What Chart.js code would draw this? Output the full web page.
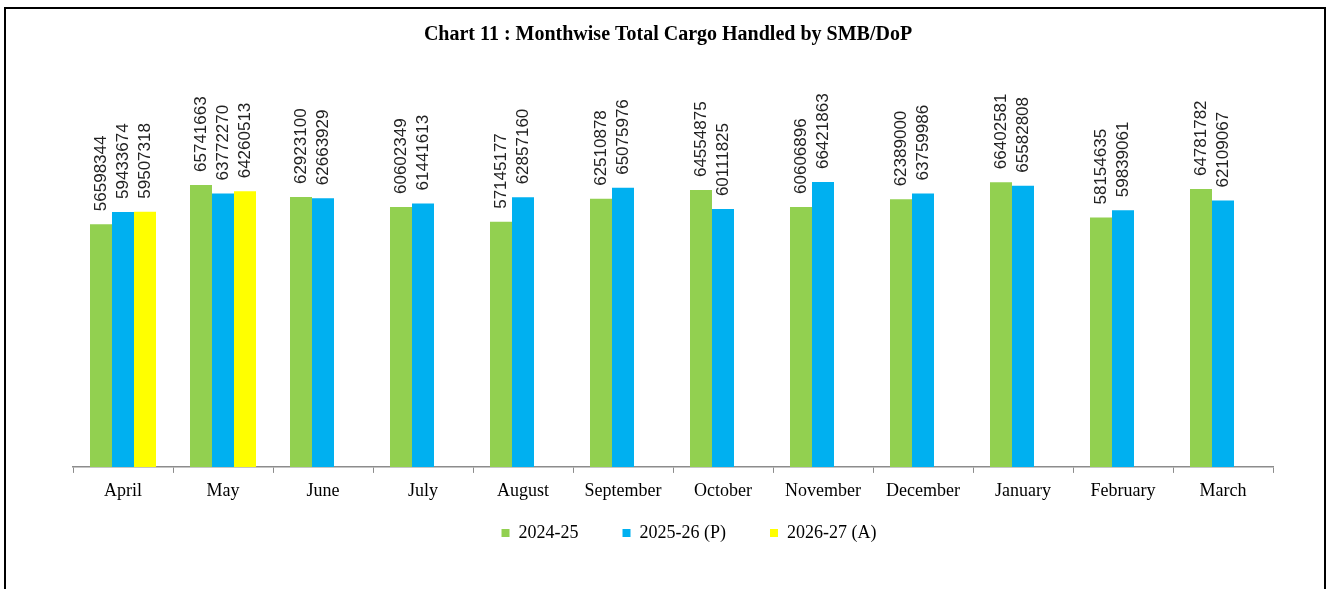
<!DOCTYPE html>
<html>
<head>
<meta charset="utf-8">
<title>Chart 11 : Monthwise Total Cargo Handled by SMB/DoP</title>
<script src="https://cdn.jsdelivr.net/npm/chart.js@4.4.1/dist/chart.umd.min.js"></script>
<style>
    html, body { margin: 0; padding: 0; background: #fff; }
    #wrap { position: relative; width: 1330px; height: 589px; }
</style>
</head>
<body>
<div id="wrap"><canvas id="cargo-chart" width="1330" height="589"></canvas></div>
<script>
// Month categories (April to March)
const MONTHS = ["April", "May", "June", "July", "August", "September",
    "October", "November", "December", "January", "February", "March"];

// Cargo handled, tonnes
const CARGO_2024_25 = [56598344, 65741663, 62923100, 60602349, 57145177, 62510878,
    64554875, 60606896, 62389000, 66402581, 58154635, 64781782];
const CARGO_2025_26 = [59433674, 63772270, 62663929, 61441613, 62857160, 65075976,
    60111825, 66421863, 63759986, 65582808, 59839061, 62109067];
const CARGO_2026_27 = [59507318, 64260513, null, null, null, null,
    null, null, null, null, null, null];

const SERIES_LABELS = ["2024-25", "2025-26 (P)", "2026-27 (A)"];
const SERIES_COLORS = ["#92D050", "#00B0F0", "#FFFF00"];

const SERIF = "'Liberation Serif', 'Times New Roman', serif";

// White page plus the thin black frame round the chart
const framePlugin = {
    id: "frame",
    beforeDraw(chart) {
        const ctx = chart.ctx;
        ctx.save();
        ctx.fillStyle = "#fff";
        ctx.fillRect(0, 0, chart.width, chart.height);
        ctx.strokeStyle = "#000";
        ctx.lineWidth = 2;
        ctx.strokeRect(5, 8, 1320, 620);
        ctx.restore();
    },
};

// Nudge title and legend to where the original puts them
const placePlugin = {
    id: "place",
    afterUpdate(chart) {
        const t = chart.titleBlock;
        if (t) { t.left -= 5; t.right -= 5; }
        const lg = chart.legend;
        if (lg) { lg.left += 16; lg.right += 16; lg.top = 480; }
    },
};

// Vertical value labels above every bar
const valueLabels = {
    id: "valueLabels",
    afterDatasetsDraw(chart) {
        const ctx = chart.ctx;
        ctx.save();
        ctx.font = "17px 'Liberation Sans', Arial, sans-serif";
        ctx.fillStyle = "#222";
        ctx.textAlign = "left";
        ctx.textBaseline = "middle";
        chart.data.datasets.forEach((ds, i) => {
            const meta = chart.getDatasetMeta(i);
            meta.data.forEach((bar, j) => {
                const v = ds.data[j];
                if (v === null || v === undefined) return;
                ctx.save();
                ctx.translate(bar.x, bar.y - 13);
                ctx.rotate(-Math.PI / 2);
                ctx.fillText(String(v), 0, 0);
                ctx.restore();
            });
        });
        ctx.restore();
    },
};

function renderCargoChart() {
    const canvas = document.getElementById("cargo-chart");
    new Chart(canvas, {
        type: "bar",
        data: {
            labels: MONTHS,
            datasets: [CARGO_2024_25, CARGO_2025_26, CARGO_2026_27].map((d, i) => ({
                label: SERIES_LABELS[i],
                data: d,
                backgroundColor: SERIES_COLORS[i],
                borderWidth: 0,
                categoryPercentage: 0.66,
                barPercentage: 1.0,
            })),
        },
        options: {
            responsive: false,
            animation: false,
            devicePixelRatio: 1,
            layout: { padding: { left: 73, right: 57, top: 0, bottom: 6.5 } },
            plugins: {
                title: {
                    display: true,
                    text: "Chart 11 : Monthwise Total Cargo Handled by SMB/DoP",
                    color: "#000",
                    font: { family: SERIF, size: 20, weight: "bold" },
                    padding: { top: 23, bottom: 119.7 },
                },
                legend: {
                    position: "bottom",
                    labels: {
                        color: "#000",
                        font: { family: SERIF, size: 18 },
                        boxWidth: 8,
                        boxHeight: 8,
                        padding: 44,
                    },
                },
                tooltip: { enabled: false },
            },
            scales: {
                x: {
                    grid: {
                        drawOnChartArea: false,
                        drawTicks: true,
                        tickLength: 6,
                        tickColor: "#8c8c8c",
                    },
                    border: { display: true, color: "#8c8c8c", width: 1.5 },
                    ticks: {
                        color: "#000",
                        font: { family: SERIF, size: 18 },
                        padding: 8,
                        maxRotation: 0,
                        autoSkip: false,
                    },
                },
                y: {
                    display: false,
                    min: 0,
                    max: 70000000,
                },
            },
        },
        plugins: [framePlugin, placePlugin, valueLabels],
    });
}

renderCargoChart();
</script>
</body>
</html>
